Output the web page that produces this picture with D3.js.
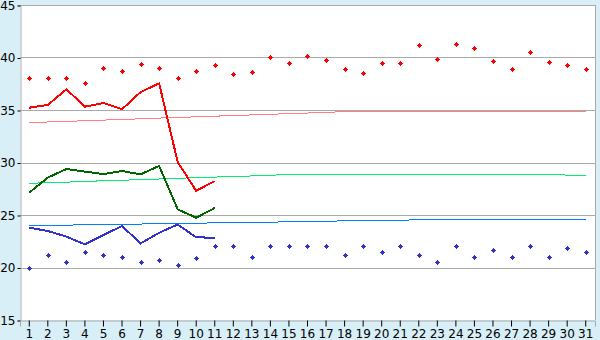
<!DOCTYPE html>
<html>
<head>
<meta charset="utf-8">
<script src="https://cdn.jsdelivr.net/npm/d3@7"></script>
<style>
  html, body { margin: 0; padding: 0; background: #d8eff7; }
  svg { display: block; }
  text { font-family: "DejaVu Sans", Verdana, sans-serif; font-size: 12px; fill: #000; }
</style>
</head>
<body>
<svg id="chart"></svg>
<script>
const width = 600, height = 340;

// days of month
const days = d3.range(1, 32);
const yTicks = [15, 20, 25, 30, 35, 40, 45];

// daily max (red dots) and min (blue dots)
const maxPoints = [38.0, 38.0, 38.0, 37.6, 39.0, 38.7, 39.35, 39.0, 38.0, 38.7,
  39.25, 38.4, 38.6, 40.0, 39.45, 40.1, 39.8, 38.9, 38.5, 39.45, 39.45,
  41.15, 39.9, 41.25, 40.95, 39.7, 38.9, 40.5, 39.55, 39.25, 38.9];
const minPoints = [20.0, 21.15, 20.5, 21.45, 21.15, 20.97, 20.5, 20.68, 20.2, 20.87,
  22.0, 22.0, 20.97, 22.0, 22.0, 22.0, 22.0, 21.15, 22.0, 21.45, 22.0,
  21.15, 20.5, 22.0, 20.97, 21.64, 20.97, 22.0, 20.97, 21.9, 21.45];

// lines for first 11 days
const redLine = [35.22, 35.48, 36.97, 35.32, 35.67, 35.07, 36.7, 37.54, 30.05, 27.3, 28.24];
const greenLine = [27.13, 28.56, 29.38, 29.13, 28.9, 29.19, 28.87, 29.67, 25.54, 24.74, 25.67];
const blueLine = [23.79, 23.48, 22.94, 22.2, 23.1, 23.95, 22.3, 23.3, 24.1, 22.87, 22.84];

// normals (thin lines)
const redNormal = [33.79, 33.86, 33.91, 33.98, 34.04, 34.10, 34.16, 34.23, 34.29, 34.35,
  34.41, 34.48, 34.53, 34.59, 34.66, 34.71, 34.78, 34.84, 34.88, 34.88, 34.88,
  34.88, 34.88, 34.88, 34.88, 34.88, 34.88, 34.88, 34.88, 34.88, 34.88];
const greenNormal = [28.02, 28.08, 28.13, 28.2, 28.26, 28.31, 28.37, 28.43, 28.5, 28.55,
  28.61, 28.67, 28.72, 28.79, 28.85, 28.87, 28.87, 28.87, 28.87, 28.87, 28.87,
  28.87, 28.87, 28.87, 28.87, 28.87, 28.87, 28.87, 28.87, 28.8, 28.78];
const blueNormal = [23.98, 24.01, 24.04, 24.06, 24.09, 24.12, 24.14, 24.16, 24.19, 24.22,
  24.25, 24.28, 24.30, 24.32, 24.35, 24.38, 24.41, 24.44, 24.46, 24.49, 24.51,
  24.54, 24.57, 24.58, 24.58, 24.58, 24.58, 24.58, 24.58, 24.58, 24.58];

const plotLeft = 20, plotRight = 595, plotTop = 5, plotBottom = 320;

const svg = d3.select("#chart").attr("width", width).attr("height", height);

const xBand = d3.scaleBand().domain(days).range([plotLeft, plotRight]);
const x = d => xBand(d) + xBand.bandwidth() / 2;
const y = d3.scaleLinear().domain([15, 45]).range([plotBottom, plotTop]);

// plot background
svg.append("rect")
  .attr("x", plotLeft).attr("y", plotTop)
  .attr("width", plotRight - plotLeft).attr("height", plotBottom - plotTop)
  .attr("fill", "#fff");

// grid
svg.append("g")
  .selectAll("line")
  .data(yTicks.slice(1))
  .enter()
  .append("line")
  .attr("x1", plotLeft).attr("x2", plotRight)
  .attr("y1", d => Math.round(y(d)) + 0.5)
  .attr("y2", d => Math.round(y(d)) + 0.5)
  .attr("stroke", "#aaa");

// right border
svg.append("line")
  .attr("x1", plotRight + 0.5).attr("x2", plotRight + 0.5)
  .attr("y1", plotTop).attr("y2", plotBottom)
  .attr("stroke", "#aaa");

// y axis
const yAxis = svg.append("g")
  .attr("transform", `translate(${plotLeft + 0.5},0.5)`)
  .call(d3.axisLeft(y).tickValues(yTicks).tickSize(3).tickPadding(2));
yAxis.select(".domain").attr("stroke", "#aaa");
yAxis.selectAll(".tick line").attr("stroke", "#000");
yAxis.selectAll("text").style("font-size", "12px").style("font-family", "DejaVu Sans, sans-serif");

// x axis
const xAxis = svg.append("g")
  .attr("transform", `translate(0,${plotBottom + 0.5})`)
  .call(d3.axisBottom(xBand).tickSize(6).tickPadding(3));
xAxis.select(".domain").attr("stroke", "#aaa");
xAxis.selectAll(".tick line").attr("stroke", "#000");
xAxis.selectAll("text").style("font-size", "12px").style("font-family", "DejaVu Sans, sans-serif");

// normals
const line = d3.line().x((d, i) => x(days[i])).y(d => y(d));
[[redNormal, "#ff8080"], [greenNormal, "#00ee70"], [blueNormal, "#0080ff"]].forEach(([data, color]) => {
  svg.append("path")
    .datum(data)
    .attr("d", line)
    .attr("fill", "none")
    .attr("stroke", color)
    .attr("stroke-width", 1)
    .attr("shape-rendering", "crispEdges");
});

// main lines
[[redLine, "#ff0000"], [greenLine, "#006600"], [blueLine, "#3333cc"]].forEach(([data, color]) => {
  svg.append("path")
    .datum(data)
    .attr("d", line)
    .attr("fill", "none")
    .attr("stroke", color)
    .attr("stroke-width", 2)
    .attr("shape-rendering", "crispEdges");
});

// markers: small 5px diamond/plus
const plus = "M-0.5,-2.5h1v1h1v1h1v1h-1v1h-1v1h-1v-1h-1v-1h-1v-1h1v-1h1z";
[[maxPoints, "#ff0000"], [minPoints, "#3333cc"]].forEach(([data, color]) => {
  svg.append("g")
    .selectAll("path")
    .data(data)
    .enter()
    .append("path")
    .attr("d", plus)
    .attr("transform", (d, i) => `translate(${Math.round(x(days[i])) + 0.5},${Math.round(y(d)) + 0.5})`)
    .attr("fill", color)
    .attr("shape-rendering", "crispEdges");
});
</script>
</body>
</html>
